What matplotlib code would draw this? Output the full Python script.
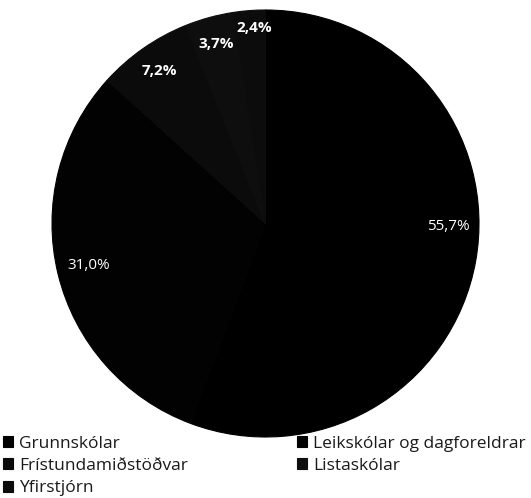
import matplotlib.pyplot as plt
import numpy as np

plt.rcParams['font.family'] = ['Open Sans', 'DejaVu Sans']

categories = ["Grunnskólar", "Leikskólar og dagforeldrar", "Frístundamiðstöðvar",
              "Listaskólar", "Yfirstjórn"]
shares = [55.7, 31.0, 7.2, 3.7, 2.4]
colors = ["#000000", "#020202", "#0b0b0b", "#0e0e0e", "#0c0c0c"]

fig = plt.figure(figsize=(5.31, 4.98), dpi=100)
ax = fig.add_axes([(265.5 - 213.5) / 531, (498 - 223.5 - 213.5) / 498, 427 / 531, 427 / 498])

wedges, texts, autotexts = ax.pie(
    shares, colors=colors, startangle=90, counterclock=False,
    autopct=lambda p: f"{p:.1f}%".replace(".", ","), pctdistance=0.87,
    wedgeprops=dict(linewidth=0.8), textprops=dict(color="white", fontsize=11))
for w in wedges:
    w.set_edgecolor(w.get_facecolor())
ax.set_xlim(-1, 1)
ax.set_ylim(-1, 1)
ax.set_aspect("auto")

for i, t in enumerate(autotexts):
    if shares[i] < 10:
        t.set_fontweight("bold")
# big slice label sits level with the centre in the original
autotexts[0].set_position((0.855, -0.012))
autotexts[1].set_position((-0.826, -0.195))
autotexts[4].set_position((-0.054, 0.915))

# legend order is row-major in the original, matplotlib fills column-major
order = [0, 2, 4, 1, 3]
leg = fig.legend([wedges[i] for i in order], [categories[i] for i in order],
                 ncol=2, loc="upper left", bbox_to_anchor=(0.005, 0.125),
                 frameon=False, fontsize=12.5, handlelength=0.6, handleheight=0.6,
                 handletextpad=0.35, columnspacing=6.25, labelspacing=0.36,
                 borderpad=0, borderaxespad=0)
for t in leg.get_texts():
    t.set_color("#1a1a1a")

fig.savefig("out.png", dpi=100)
